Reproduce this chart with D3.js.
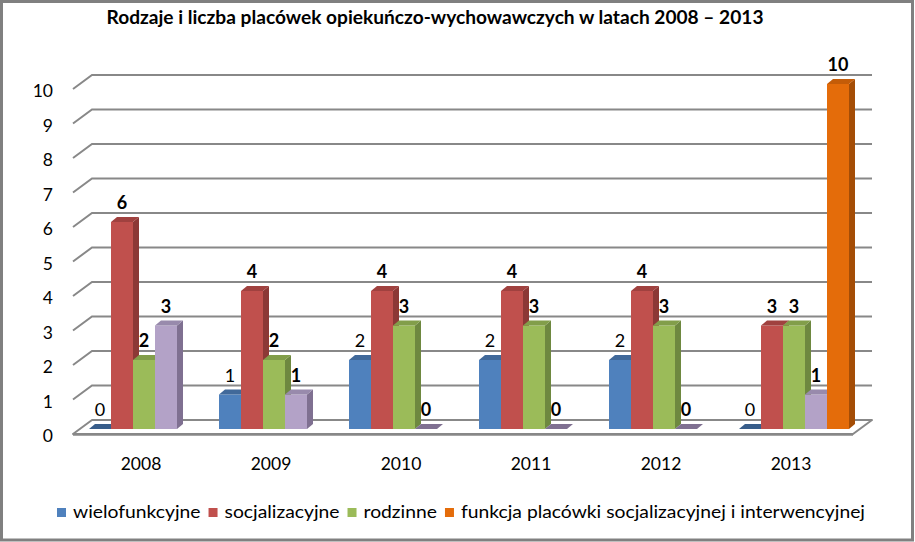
<!DOCTYPE html>
<html><head><meta charset="utf-8">
<script src="https://cdn.jsdelivr.net/npm/d3@7"></script>
<style>html,body{margin:0;padding:0;background:#fff;}svg{display:block;}</style>
</head><body>
<svg id="c" width="915" height="542"></svg>
<script>
// ---- data ----
const title = "Rodzaje i liczba placówek opiekuńczo-wychowawczych w latach 2008 – 2013";
const years = ["2008", "2009", "2010", "2011", "2012", "2013"];
const seriesNames = ["wielofunkcyjne", "socjalizacyjne", "rodzinne", "(bez nazwy)", "funkcja placówki socjalizacyjnej i interwencyjnej"];
const inLegend = [true, true, true, false, true];
const wielofunkcyjne = [0, 1, 2, 2, 2, 0];
const socjalizacyjne = [6, 4, 4, 4, 4, 3];
const rodzinne = [2, 2, 3, 3, 3, 3];
const bezNazwy = [3, 1, 0, 0, 0, 1];
const funkcjaSocInt = [null, null, null, null, null, 10];
const yTicks = [0, 1, 2, 3, 4, 5, 6, 7, 8, 9, 10];

const seriesValues = [wielofunkcyjne, socjalizacyjne, rodzinne, bezNazwy, funkcjaSocInt];
const colors = [
  {front: "#4F81BD", side: "#385D8A", top: "#41699A"},
  {front: "#C0504D", side: "#8C3836", top: "#A0413F"},
  {front: "#9BBB59", side: "#6E8840", top: "#829E4A"},
  {front: "#B3A2C7", side: "#7F7091", top: "#988AAC"},
  {front: "#E46C0A", side: "#A44D06", top: "#C45C08"}
];
const boldLabel = [false, true, true, true, true];

const FONT = "Lato, 'Open Sans', sans-serif";
const svg = d3.select("#c");

// ---- geometry ----
const floorX0 = 73, floorX1 = 853;
const depthDx = 19, depthDy = -14;
const barDx = 6, barDy = -5;      // bar offset inside depth
const bDx = 6, bDy = -5;          // bar own depth

const x = d3.scaleBand().domain(years).range([floorX0, floorX1])
  .paddingInner(20 / 130).paddingOuter(10 / 130);
const xi = d3.scaleBand().domain(d3.range(seriesNames.length)).range([0, x.bandwidth()]).padding(0);
const yF = d3.scaleLinear().domain([0, 10]).range([434, 89]);

// border
svg.append("rect").attr("x", 1.5).attr("y", 1.5).attr("width", 911).attr("height", 538.5)
  .attr("fill", "#fff").attr("stroke", "#808080").attr("stroke-width", 3);

// title
const t = svg.append("text").attr("x", 435).attr("y", 24).attr("text-anchor", "middle")
  .attr("font-family", FONT).attr("font-weight", "bold").attr("font-size", 18).attr("fill", "#000")
  .text(title);
t.attr("textLength", 657).attr("lengthAdjust", "spacingAndGlyphs");

// floor
const fl = [[floorX0, yF(0)], [floorX1, yF(0)], [floorX1 + depthDx, yF(0) + depthDy], [floorX0 + depthDx, yF(0) + depthDy]];
svg.append("polygon").attr("points", fl.map(p => p.join(",")).join(" "))
  .attr("fill", "#fff").attr("stroke", "#888").attr("stroke-width", 2).attr("stroke-linejoin", "round");
svg.append("line").attr("x1", floorX0).attr("x2", floorX1).attr("y1", yF(0) + 0.5).attr("y2", yF(0) + 0.5)
  .attr("stroke", "#888").attr("stroke-width", 2.5);

// gridlines (side + back wall)
svg.append("g").selectAll("path").data(yTicks.filter(v => v > 0)).join("path")
  .attr("d", v => `M${floorX0},${yF(v)} L${floorX0 + depthDx},${yF(v) + depthDy} L${floorX1 + depthDx},${yF(v) + depthDy}`)
  .attr("fill", "none").attr("stroke", "#888").attr("stroke-width", 2);

// y tick labels
svg.append("g").selectAll("text").data(yTicks).join("text")
  .attr("x", 53).attr("y", v => yF(v) + 2).attr("dy", "0.36em").attr("text-anchor", "end")
  .attr("font-family", FONT).attr("font-size", 17.5).attr("fill", "#000").text(v => v);

// x labels
svg.append("g").selectAll("text").data(years).join("text")
  .attr("x", d => x(d) + x.bandwidth() / 2 + 3).attr("y", 464).attr("dy", "0.36em").attr("text-anchor", "middle")
  .attr("font-family", FONT).attr("font-size", 17.5).attr("fill", "#000").text(d => d);

// bars
const yB = v => yF(v) + barDy;
const bars = [];
years.forEach((yr, i) => {
  seriesValues.forEach((vals, s) => {
    const v = vals[i];
    if (v === null || v === undefined) return;
    bars.push({yr, s, v, x0: x(yr) + barDx + xi(s), w: xi.bandwidth()});
  });
});
const gb = svg.append("g");
bars.forEach(b => {
  const g = gb.append("g");
  const yt = yB(b.v), y0 = yB(0), x0 = b.x0, x1 = b.x0 + b.w, c = colors[b.s];
  if (b.v > 0) {
    g.append("rect").attr("x", x0).attr("y", yt).attr("width", b.w).attr("height", y0 - yt).attr("fill", c.front);
    g.append("polygon").attr("points", [[x1, yt], [x1 + bDx, yt + bDy], [x1 + bDx, y0 + bDy], [x1, y0]].map(p => p.join(",")).join(" "))
      .attr("fill", c.side);
  }
  g.append("polygon").attr("points", [[x0, yt], [x0 + bDx, yt + bDy], [x1 + bDx, yt + bDy], [x1, yt]].map(p => p.join(",")).join(" "))
    .attr("fill", b.v > 0 ? c.top : c.side);
});

// data labels
svg.append("g").selectAll("text").data(bars).join("text")
  .attr("x", b => b.x0 + b.w / 2).attr("y", b => yB(b.v) - 13).attr("text-anchor", "middle")
  .attr("font-family", FONT).attr("font-size", 18).attr("fill", "#000")
  .attr("font-weight", b => boldLabel[b.s] ? "bold" : "normal").text(b => b.v);

// legend
const lg = svg.append("g");
const legItems = seriesNames.map((n, s) => ({n, s})).filter(d => inLegend[d.s]);
const tmp = legItems.map(d => {
  const tt = lg.append("text").attr("font-family", FONT).attr("font-size", 18).text(d.n);
  const w = tt.node().getComputedTextLength(); tt.remove(); return w;
});
const sq = 9, gapSq = 7, gapItem = 8;
const textTotalTarget = 808 - legItems.length * (sq + gapSq) - (legItems.length - 1) * gapItem;
const k = textTotalTarget / d3.sum(tmp);
let cx = 57;
legItems.forEach((d, i) => {
  lg.append("rect").attr("x", cx).attr("y", 508).attr("width", sq).attr("height", sq).attr("fill", colors[d.s].front);
  cx += sq + gapSq;
  const tw = tmp[i] * k;
  lg.append("text").attr("x", cx).attr("y", 512).attr("dy", "0.36em")
    .attr("font-family", FONT).attr("font-size", 18).attr("fill", "#000")
    .attr("textLength", tw).attr("lengthAdjust", "spacingAndGlyphs").text(d.n);
  cx += tw + gapItem;
});
</script>
</body></html>
